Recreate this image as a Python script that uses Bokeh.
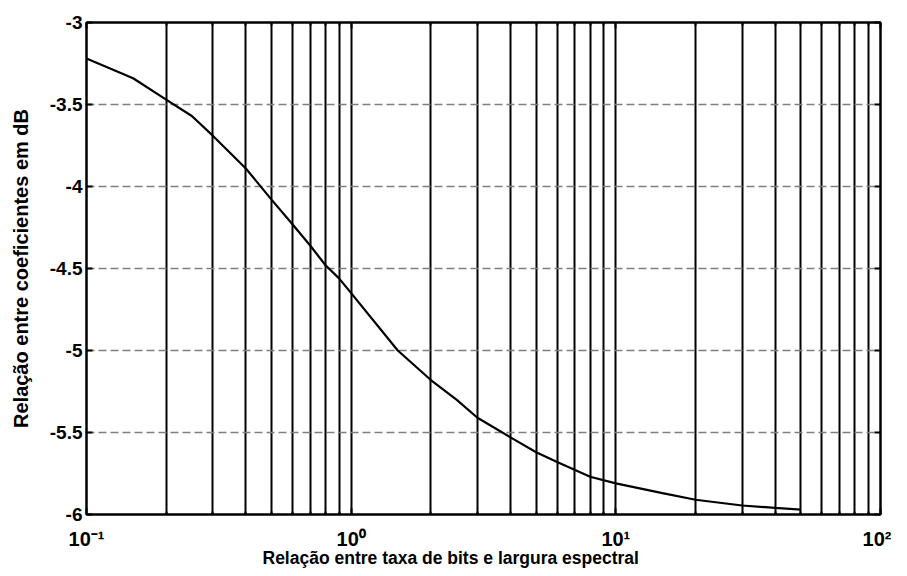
from bokeh.plotting import figure
from bokeh.models import FixedTicker, CustomJSTickFormatter, Range1d, LinearAxis, LogAxis, Title
from bokeh.embed import file_html
from bokeh.resources import INLINE

# Data
x_vals = [0.1, 0.15, 0.2, 0.25, 0.3, 0.4, 0.5, 0.6, 0.7, 0.8, 0.9, 1.0, 1.5, 2, 2.5, 3,
          4, 5, 6, 8, 10, 15, 20, 30, 40, 50]
y_vals = [-3.22, -3.34, -3.47, -3.57, -3.69, -3.89, -4.08, -4.23, -4.36, -4.48, -4.56,
          -4.65, -5.00, -5.18, -5.30, -5.41, -5.53, -5.62, -5.68, -5.77, -5.81, -5.87,
          -5.91, -5.945, -5.96, -5.97]

x_major = [0.1, 1, 10, 100]
x_tick_labels = ["10\u207b\u00b9", "10\u2070", "10\u00b9", "10\u00b2"]
x_minor = [0.2, 0.3, 0.4, 0.5, 0.6, 0.7, 0.8, 0.9,
           2, 3, 4, 5, 6, 7, 8, 9,
           20, 30, 40, 50, 60, 70, 80, 90]
y_ticks = [-6, -5.5, -5, -4.5, -4, -3.5, -3]
y_tick_labels = ["-6", "-5.5", "-5", "-4.5", "-4", "-3.5", "-3"]

x_title = "Relação entre taxa de bits e largura espectral"
y_title = "Relação entre coeficientes em dB"

FONT = "Liberation Sans"

p = figure(frame_width=794, frame_height=492,
           x_axis_type="log", x_range=Range1d(0.1, 100), y_range=Range1d(-6, -3),
           output_backend="svg", toolbar_location=None,
           min_border_left=86, min_border_right=11, min_border_top=22, min_border_bottom=62)

p.background_fill_color = "white"
p.border_fill_color = "white"
p.outline_line_color = "black"
p.outline_line_width = 2

# grids
p.xgrid.ticker = FixedTicker(ticks=x_major, minor_ticks=x_minor)
p.xgrid.grid_line_color = "black"
p.xgrid.grid_line_width = 2
p.xgrid.minor_grid_line_color = "black"
p.xgrid.minor_grid_line_width = 2
p.ygrid.ticker = FixedTicker(ticks=y_ticks)
p.ygrid.grid_line_color = "#7f7f7f"
p.ygrid.grid_line_width = 1.5
p.ygrid.grid_line_dash = "8 4"


def style_x(ax):
    ax.ticker = FixedTicker(ticks=x_major, minor_ticks=x_minor)
    ax.axis_line_color = "black"
    ax.axis_line_width = 2
    ax.major_tick_in = 6
    ax.major_tick_out = 0
    ax.minor_tick_in = 3
    ax.minor_tick_out = 0
    ax.major_tick_line_width = 2
    ax.minor_tick_line_width = 2


def style_y(ax):
    ax.ticker = FixedTicker(ticks=y_ticks)
    ax.axis_line_color = "black"
    ax.axis_line_width = 2
    ax.major_tick_in = 6
    ax.major_tick_out = 0
    ax.minor_tick_line_color = None
    ax.major_tick_line_width = 2


# x axis (bottom)
xa = p.xaxis[0]
style_x(xa)
xa.major_label_overrides = dict(zip(x_major, x_tick_labels))
xa.major_label_standoff = 13
xa.major_label_text_font = FONT
xa.major_label_text_font_style = "bold"
xa.major_label_text_font_size = "20px"
xa.major_label_text_color = "black"

# x axis title, positioned like the reference (left-aligned with an offset)
xt = Title(text=x_title, align="left", offset=176, standoff=-14,
           text_font=FONT, text_font_style="bold", text_font_size="17.5px",
           text_color="black")
p.add_layout(xt, "below")

# y axis (left)
ya = p.yaxis[0]
style_y(ya)
ya.major_label_overrides = dict(zip(y_ticks, y_tick_labels))
ya.major_label_standoff = 4
ya.major_label_text_font = FONT
ya.major_label_text_font_style = "bold"
ya.major_label_text_font_size = "19px"
ya.major_label_text_color = "black"
ya.axis_label = y_title
ya.axis_label_text_font = FONT
ya.axis_label_text_font_style = "bold"
ya.axis_label_text_font_size = "20px"
ya.axis_label_text_color = "black"
ya.axis_label_standoff = 15

# box ticks on top and right
top_ax = LogAxis()
style_x(top_ax)
top_ax.formatter = CustomJSTickFormatter(code="return ''")
top_ax.major_label_standoff = 0
p.add_layout(top_ax, "above")

right_ax = LinearAxis()
style_y(right_ax)
right_ax.formatter = CustomJSTickFormatter(code="return ''")
right_ax.major_label_standoff = 0
p.add_layout(right_ax, "right")

p.line(x_vals, y_vals, line_color="black", line_width=2.2)

open("out.html", "w").write(file_html(p, INLINE))
